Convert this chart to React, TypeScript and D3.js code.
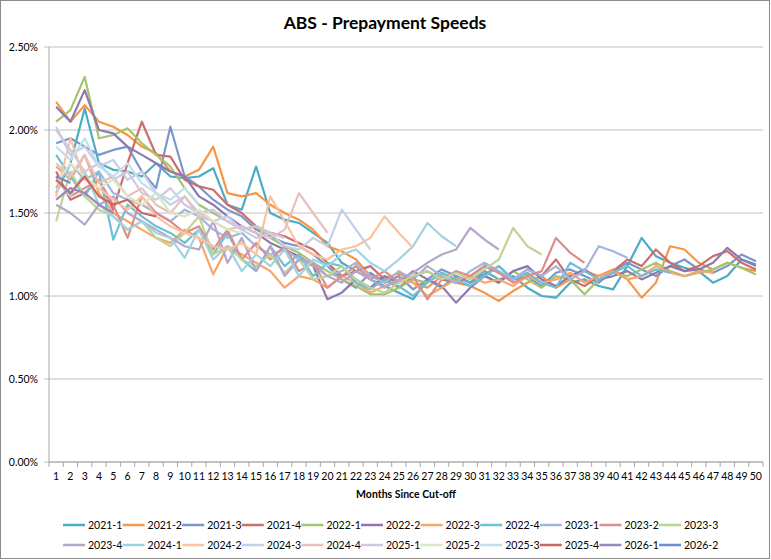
import React from "react";
import * as d3 from "d3";

// monthly prepayment speed (%), index 0 = month 1
const s2021_1 = [1.62, 1.80, 2.13, 1.80, 1.76, 1.75, 1.72, 1.80, 1.72, 1.71, 1.72, 1.77, 1.55, 1.52, 1.78, 1.50, 1.46, 1.44, 1.38, 1.32, 1.20, 1.15, 1.10, 1.06, 1.02, 0.98, 1.10, 1.05, 1.12, 1.08, 1.15, 1.10, 1.12, 1.05, 1.00, 0.99, 1.08, 1.10, 1.06, 1.04, 1.18, 1.35, 1.24, 1.20, 1.17, 1.15, 1.08, 1.12, 1.22, 1.18];
const s2021_2 = [2.17, 2.05, 2.15, 2.05, 2.02, 1.97, 1.90, 1.86, 1.75, 1.72, 1.76, 1.90, 1.62, 1.60, 1.62, 1.55, 1.50, 1.46, 1.40, 1.30, 1.27, 1.22, 1.12, 1.10, 1.14, 1.08, 1.05, 1.12, 1.08, 1.06, 1.02, 0.97, 1.03, 1.08, 1.12, 1.05, 1.10, 1.15, 1.12, 1.16, 1.10, 0.99, 1.08, 1.30, 1.28, 1.20, 1.16, 1.20, 1.17, 1.15];
const s2021_3 = [1.92, 1.95, 1.90, 1.85, 1.88, 1.90, 1.75, 1.65, 2.02, 1.72, 1.66, 1.58, 1.52, 1.48, 1.40, 1.36, 1.32, 1.30, 1.25, 1.18, 1.10, 1.05, 1.14, 1.08, 1.12, 1.04, 1.10, 1.16, 1.12, 1.08, 1.13, 1.18, 1.10, 1.12, 1.06, 1.14, 1.16, 1.12, 1.08, 1.15, 1.20, 1.16, 1.12, 1.18, 1.22, 1.16, 1.14, 1.18, 1.25, 1.21];
const s2021_4 = [1.75, 1.58, 1.62, 1.70, 1.52, 1.80, 2.05, 1.85, 1.84, 1.70, 1.66, 1.64, 1.55, 1.50, 1.42, 1.38, 1.36, 1.32, 1.28, 1.20, 1.12, 1.15, 1.18, 1.10, 1.05, 1.12, 1.15, 1.10, 1.08, 1.12, 1.18, 1.14, 1.10, 1.16, 1.12, 1.22, 1.10, 1.06, 1.12, 1.15, 1.22, 1.18, 1.28, 1.20, 1.15, 1.18, 1.24, 1.27, 1.20, 1.16];
const s2022_1 = [2.05, 2.12, 2.32, 1.95, 1.97, 2.01, 1.92, 1.85, 1.78, 1.65, 1.55, 1.50, 1.45, 1.40, 1.42, 1.35, 1.30, 1.26, 1.20, 1.15, 1.10, 1.06, 1.01, 1.01, 1.05, 1.10, 1.08, 1.14, 1.10, 1.06, 1.12, 1.08, 1.15, 1.10, 1.05, 1.12, 1.10, 1.01, 1.10, 1.14, 1.12, 1.16, 1.20, 1.15, 1.12, 1.14, 1.16, 1.20, 1.17, 1.13];
const s2022_2 = [2.14, 2.05, 2.24, 2.00, 1.98, 1.90, 1.85, 1.80, 1.75, 1.72, 1.60, 1.55, 1.48, 1.42, 1.38, 1.32, 1.28, 1.24, 1.18, 0.98, 1.02, 1.10, 1.05, 1.12, 1.08, 1.15, 1.10, 1.06, 0.96, 1.05, 1.12, 1.08, 1.15, 1.18, 1.10, 1.06, 1.12, 1.16, 1.10, 1.12, 1.15, 1.10, 1.14, 1.18, 1.15, 1.16, 1.20, 1.29, 1.22, 1.19];
const s2022_3 = [1.78, 1.70, 1.85, 1.62, 1.50, 1.45, 1.40, 1.35, 1.32, 1.40, 1.35, 1.13, 1.30, 1.25, 1.20, 1.15, 1.05, 1.12, 1.10, 1.05, 1.12, 1.08, 1.02, 1.06, 1.10, 1.08, 1.00, 1.05, 1.10, 1.12, 1.08, 1.10, 1.06, 1.12, 1.08, 1.10, 1.14, 1.08, 1.12, 1.15, 1.10, 1.12, 1.18, 1.14, 1.12, 1.15, 1.14];
const s2022_4 = [1.85, 1.72, 1.60, 1.75, 1.34, 1.55, 1.48, 1.42, 1.38, 1.32, 1.40, 1.25, 1.38, 1.22, 1.15, 1.30, 1.18, 1.25, 1.12, 1.20, 1.18, 1.08, 1.04, 1.10, 1.06, 1.00, 1.08, 1.14, 1.10, 1.06, 1.12, 1.18, 1.10, 1.14, 1.08, 1.05, 1.20, 1.15, 1.10, 1.14, 1.18, 1.12, 1.16, 1.14];
const s2023_1 = [1.65, 1.80, 1.70, 1.75, 1.62, 1.58, 1.55, 1.50, 1.45, 1.52, 1.48, 1.40, 1.35, 1.38, 1.30, 1.25, 1.28, 1.22, 1.18, 1.12, 1.15, 1.20, 1.12, 1.08, 1.15, 1.10, 1.18, 1.12, 1.08, 1.15, 1.20, 1.15, 1.10, 1.16, 1.12, 1.18, 1.10, 1.15, 1.30, 1.27, 1.23];
const s2023_2 = [1.72, 1.60, 1.65, 1.70, 1.55, 1.35, 1.60, 1.50, 1.45, 1.38, 1.42, 1.28, 1.40, 1.22, 1.32, 1.22, 1.30, 1.15, 1.20, 1.05, 1.12, 1.18, 1.10, 1.15, 1.08, 1.12, 0.98, 1.10, 1.15, 1.12, 1.18, 1.14, 1.08, 1.12, 1.15, 1.35, 1.26, 1.20];
const s2023_3 = [1.45, 1.75, 1.60, 1.52, 1.48, 1.40, 1.45, 1.35, 1.30, 1.38, 1.48, 1.25, 1.30, 1.22, 1.18, 1.25, 1.14, 1.22, 1.10, 1.12, 1.18, 1.10, 1.05, 1.02, 1.08, 1.12, 1.15, 1.10, 1.14, 1.10, 1.16, 1.22, 1.41, 1.30, 1.25];
const s2023_4 = [1.55, 1.50, 1.43, 1.55, 1.60, 1.50, 1.45, 1.40, 1.35, 1.30, 1.28, 1.45, 1.20, 1.35, 1.15, 1.30, 1.12, 1.22, 1.20, 1.12, 1.08, 1.15, 1.10, 1.05, 1.10, 1.14, 1.20, 1.25, 1.28, 1.41, 1.34, 1.28];
const s2024_1 = [1.70, 1.60, 1.75, 1.55, 1.48, 1.40, 1.45, 1.38, 1.35, 1.23, 1.40, 1.22, 1.30, 1.15, 1.25, 1.18, 1.28, 1.12, 1.22, 1.18, 1.25, 1.28, 1.20, 1.15, 1.22, 1.30, 1.44, 1.36, 1.30];
const s2024_2 = [1.60, 1.95, 1.70, 1.65, 1.58, 1.52, 1.60, 1.48, 1.42, 1.38, 1.35, 1.30, 1.28, 1.32, 1.25, 1.60, 1.45, 1.30, 1.25, 1.22, 1.28, 1.30, 1.35, 1.48, 1.38, 1.29];
const s2024_3 = [2.02, 1.85, 1.90, 1.78, 1.82, 1.70, 1.75, 1.62, 1.55, 1.60, 1.50, 1.45, 1.48, 1.40, 1.35, 1.38, 1.30, 1.28, 1.35, 1.30, 1.52, 1.40, 1.28];
const s2024_4 = [1.80, 1.72, 1.85, 1.68, 1.72, 1.60, 1.65, 1.55, 1.50, 1.60, 1.48, 1.45, 1.40, 1.42, 1.38, 1.35, 1.40, 1.62, 1.50, 1.38];
const s2025_1 = [2.00, 1.88, 1.75, 1.80, 1.70, 1.75, 1.62, 1.58, 1.65, 1.55, 1.50, 1.52, 1.45, 1.40, 1.42, 1.38, 1.35];
const s2025_2 = [1.68, 1.80, 1.72, 1.65, 1.70, 1.60, 1.55, 1.62, 1.50, 1.48, 1.52, 1.45, 1.40, 1.38];
const s2025_3 = [1.90, 1.82, 1.95, 1.78, 1.72, 1.80, 1.68, 1.62, 1.58, 1.65, 1.55];
const s2025_4 = [1.70, 1.62, 1.72, 1.60, 1.55, 1.58, 1.50, 1.48];
const s2026_1 = [1.58, 1.65, 1.62, 1.55, 1.50];
const s2026_2 = [1.72, 1.68];

const seriesNames = ["2021-1", "2021-2", "2021-3", "2021-4", "2022-1", "2022-2", "2022-3", "2022-4", "2023-1", "2023-2", "2023-3", "2023-4", "2024-1", "2024-2", "2024-3", "2024-4", "2025-1", "2025-2", "2025-3", "2025-4", "2026-1", "2026-2"];
const seriesValues = [s2021_1, s2021_2, s2021_3, s2021_4, s2022_1, s2022_2, s2022_3, s2022_4, s2023_1, s2023_2, s2023_3, s2023_4, s2024_1, s2024_2, s2024_3, s2024_4, s2025_1, s2025_2, s2025_3, s2025_4, s2026_1, s2026_2];
const seriesColors = ["#4bacc6", "#f79646", "#7a97cc", "#cc6e6b", "#a5c46e", "#8f78b0", "#f9a56c", "#6fbfd5", "#a3b6dc", "#db8e8c", "#bed596", "#b5a6ca", "#9fd3e1", "#fbc29d", "#c3cfe7", "#e8c0bf", "#d1c7df", "#dbe6c5", "#bfe1ea", "#cd6663", "#9b86bb", "#6e8fcc"];

const months = d3.range(1, 51);
const yTicks = [0, 0.5, 1, 1.5, 2, 2.5];

const W = 771, H = 560;
const font = "Lato, 'Open Sans', sans-serif";

export default function App() {
  const x = d3.scaleBand<number>().domain(months).range([49, 763]);
  const y = d3.scaleLinear().domain([0, 2.5]).range([462, 47]);
  const line = d3.line<number>()
    .x((_, i) => (x(i + 1) as number) + x.bandwidth() / 2)
    .y(d => y(d));

  const legendX = (i: number) => 63 + (i % 11) * 59.6;
  const legendY = (i: number) => (i < 11 ? 525 : 545);

  return (
    <svg width={W} height={H} style={{ position: "absolute", left: 0, top: 0, background: "#fff" }} fontFamily={font}>
      <rect x={0.5} y={0.5} width={W - 2} height={H - 2} fill="#fff" stroke="#8c8c8c" />
      <text x={385} y={29} textAnchor="middle" fontSize={17.5} fontWeight="bold" fill="#000">ABS - Prepayment Speeds</text>

      {yTicks.map(t => (
        <g key={t}>
          <line x1={44} x2={763} y1={y(t)} y2={y(t)} stroke="#c0c0c0" strokeWidth={1} />
          <text x={38} y={y(t) + 4} textAnchor="end" fontSize={10.5} fill="#000">{d3.format(".2f")(t)}%</text>
        </g>
      ))}
      <line x1={49} x2={49} y1={47} y2={462} stroke="#a6a6a6" />
      <line x1={49} x2={763} y1={462} y2={462} stroke="#a6a6a6" />
      {months.map(m => (
        <line key={"t" + m} x1={x(m) as number} x2={x(m) as number} y1={462} y2={467} stroke="#a6a6a6" />
      ))}
      <line x1={763} x2={763} y1={462} y2={467} stroke="#a6a6a6" />
      {months.map(m => (
        <text key={"l" + m} x={(x(m) as number) + x.bandwidth() / 2} y={480} textAnchor="middle" fontSize={10.5} fill="#000">{m}</text>
      ))}
      <text x={406} y={498} textAnchor="middle" fontSize={10.5} fontWeight="bold" fill="#000">Months Since Cut-off</text>

      {seriesValues.map((vals, i) => (
        <path key={seriesNames[i]} d={line(vals) || ""} fill="none" stroke={seriesColors[i]} strokeWidth={2.2} strokeLinejoin="round" />
      ))}

      {seriesNames.map((name, i) => (
        <g key={"lg" + name} transform={`translate(${legendX(i)},${legendY(i)})`}>
          <line x1={0} x2={22} y1={0} y2={0} stroke={seriesColors[i]} strokeWidth={2.5} />
          <text x={25} y={4} fontSize={10.5} fill="#000">{name}</text>
        </g>
      ))}
    </svg>
  );
}
